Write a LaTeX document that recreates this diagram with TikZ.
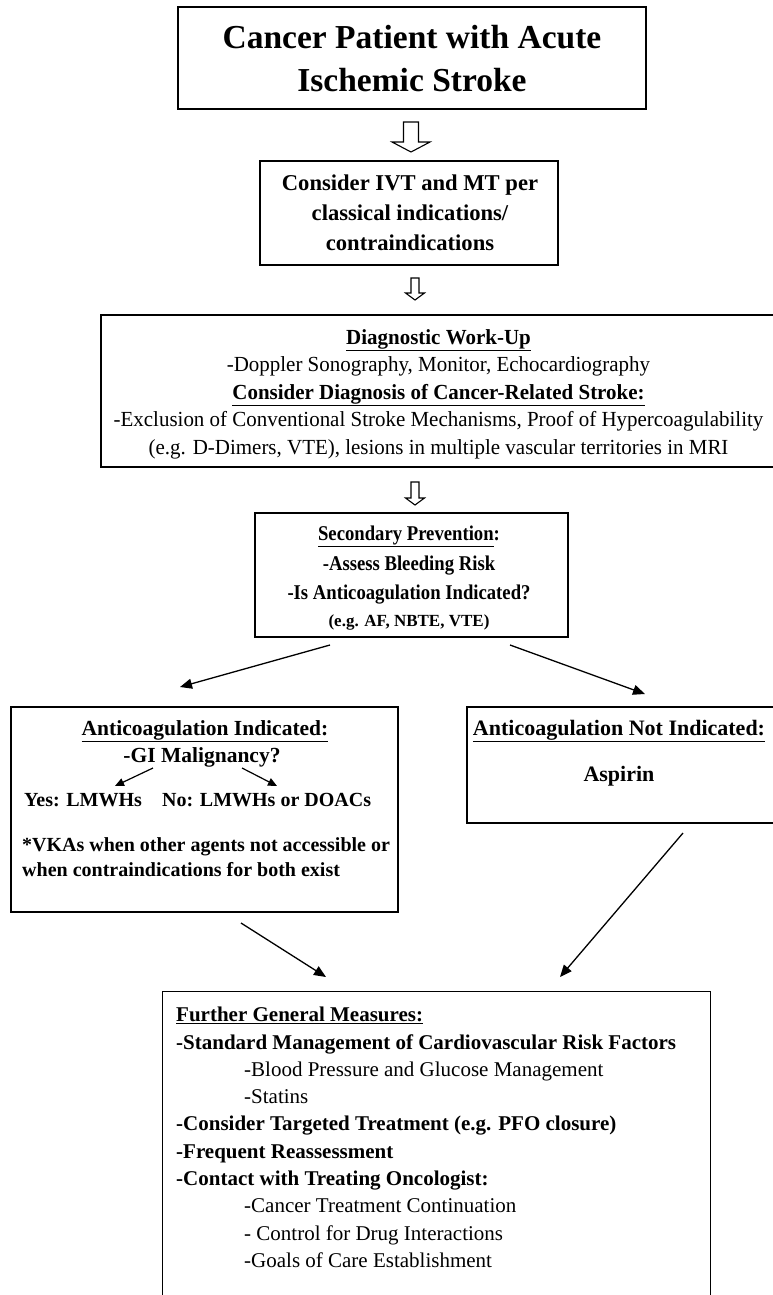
\documentclass[tikz,border=0pt]{standalone}
\usepackage{fontspec}
\setmainfont{Liberation Serif}
\newfontfamily\condA[FakeStretch=0.89]{Liberation Serif}
\newfontfamily\condB[FakeStretch=0.975]{Liberation Serif}
\usetikzlibrary{arrows.meta}
\newcommand\hollowarrow[7]{% name, x, ytop, yhead, ytip, shaft half, head half
  \coordinate (#1) at (#2,#3);
  \draw[hollow] (#2-#6,#3) -- (#2+#6,#3) -- (#2+#6,#4) -- (#2+#7,#4) -- (#2,#5)
     -- (#2-#7,#4) -- (#2-#6,#4) -- cycle;}
\begin{document}
\begin{tikzpicture}[x=1pt,y=-1pt,
  box/.style={draw, line width=1.3pt, inner sep=0pt},
  txt/.style={inner sep=0pt, align=center},
  flow/.style={-{Triangle[length=12pt,width=10pt]}, line width=1.3pt},
  smallflow/.style={-{Triangle[length=9pt,width=8pt]}, line width=1.2pt},
  hollow/.style={draw, line width=1.1pt, fill=white, line join=miter}]
\useasboundingbox (0,0) rectangle (772,1295);
\fill[white] (0,0) rectangle (772,1295);

% Box 1
\node[box, minimum width=468, minimum height=102] (b1) at (412,58) {};
\node[txt, font=\fontsize{33.5}{43}\selectfont\bfseries] (t1) at (412,59)
  {Cancer Patient with Acute\\Ischemic Stroke};

\hollowarrow{h1}{411}{122}{142}{152}{7.5}{19}

% Box 2
\node[box, minimum width=298, minimum height=104] (b2) at (409,213) {};
\node[txt, font=\fontsize{22.6}{30}\selectfont\bfseries] (t2) at (410,213)
  {Consider IVT and MT per\\classical indications/\\contraindications};

\hollowarrow{h2}{415}{278}{293}{300}{4}{9.5}

% Box 3 (right edge beyond the picture)
\node[box, minimum width=674, minimum height=152] (b3) at (438,391) {};
\node[txt, font=\fontsize{21.5}{27.5}\selectfont\condB] (t3) at (438.5,394)
  {\textbf{\underline{Diagnostic Work-Up}}\\
   -Doppler Sonography, Monitor, Echocardiography\\
   \textbf{\underline{Consider Diagnosis of Cancer-Related Stroke:}}\\
   -Exclusion of Conventional Stroke Mechanisms, Proof of Hypercoagulability\\
   (e.g. D-Dimers, VTE), lesions in multiple vascular territories in MRI};

\hollowarrow{h3}{415}{482}{498}{505}{4}{9.5}

% Box 4
\node[box, minimum width=313, minimum height=124] (b4) at (411.5,575) {};
\node[txt, font=\fontsize{21}{29.5}\selectfont\condA\bfseries] (t4) at (409,578)
  {\underline{Secondary Prevention}:\\-Assess Bleeding Risk\\-Is Anticoagulation Indicated?\\[-3pt]
   {\fontsize{17}{22}\selectfont\rmfamily\bfseries (e.g. AF, NBTE, VTE)}};

\coordinate (s4l) at (330,645);
\coordinate (e5) at (180,687);
\coordinate (s4r) at (510,645);
\coordinate (e6) at (645,694);
\draw[flow] (s4l) -- (e5);
\draw[flow] (s4r) -- (e6);

% Box 5
\node[box, minimum width=387, minimum height=205] (b5) at (204.5,809.5) {};
\node[txt, font=\fontsize{21.5}{26}\selectfont\bfseries] (t5a) at (205,731)
  {\underline{Anticoagulation Indicated:}};
\node[txt, font=\fontsize{21.5}{26}\selectfont\bfseries] (t5b) at (202,757)
  {-GI Malignancy?};
\node[txt, font=\fontsize{20}{26}\selectfont\bfseries, anchor=west] (t5c) at (24,800)
  {Yes: LMWHs};
\node[txt, font=\fontsize{20}{26}\selectfont\bfseries, anchor=west] (t5d) at (162,800)
  {No: LMWHs or DOACs};
\node[txt, font=\fontsize{20}{25.5}\selectfont\bfseries, anchor=north west, align=left] (t5e) at (22,837)
  {*VKAs when other agents not accessible or\\when contraindications for both exist};
\coordinate (g1) at (153,768);
\coordinate (g2) at (115,786);
\coordinate (g3) at (242,768);
\coordinate (g4) at (277,786);
\draw[smallflow] (g1) -- (g2);
\draw[smallflow] (g3) -- (g4);

% Box 6 (right edge beyond the picture)
\node[box, minimum width=308, minimum height=116] (b6) at (621,765) {};
\node[txt, font=\fontsize{22}{26}\selectfont\bfseries] (t6a) at (619,731)
  {\underline{Anticoagulation Not Indicated:}};
\node[txt, font=\fontsize{22}{26}\selectfont\bfseries] (t6b) at (619,776)
  {Aspirin};

\coordinate (s5) at (241,923);
\coordinate (e7l) at (326,977);
\coordinate (s6) at (683,833);
\coordinate (e7r) at (560,977);
\draw[flow] (s5) -- (e7l);
\draw[flow] (s6) -- (e7r);

% Box 7 (cut at the bottom)
\node[box, minimum width=548, minimum height=330, anchor=north west] (b7) at (162,991) {};
\node[txt, font=\fontsize{21}{27.3}\selectfont, anchor=north west, align=left] (t7) at (176,1007)
  {\textbf{\underline{Further General Measures:}}\\
   \textbf{-Standard Management of Cardiovascular Risk Factors}\\
   \hspace*{68pt}-Blood Pressure and Glucose Management\\
   \hspace*{68pt}-Statins\\
   \textbf{-Consider Targeted Treatment (e.g. PFO closure)}\\
   \textbf{-Frequent Reassessment}\\
   \textbf{-Contact with Treating Oncologist:}\\
   \hspace*{68pt}-Cancer Treatment Continuation\\
   \hspace*{68pt}- Control for Drug Interactions\\
   \hspace*{68pt}-Goals of Care Establishment};
\end{tikzpicture}
\end{document}
